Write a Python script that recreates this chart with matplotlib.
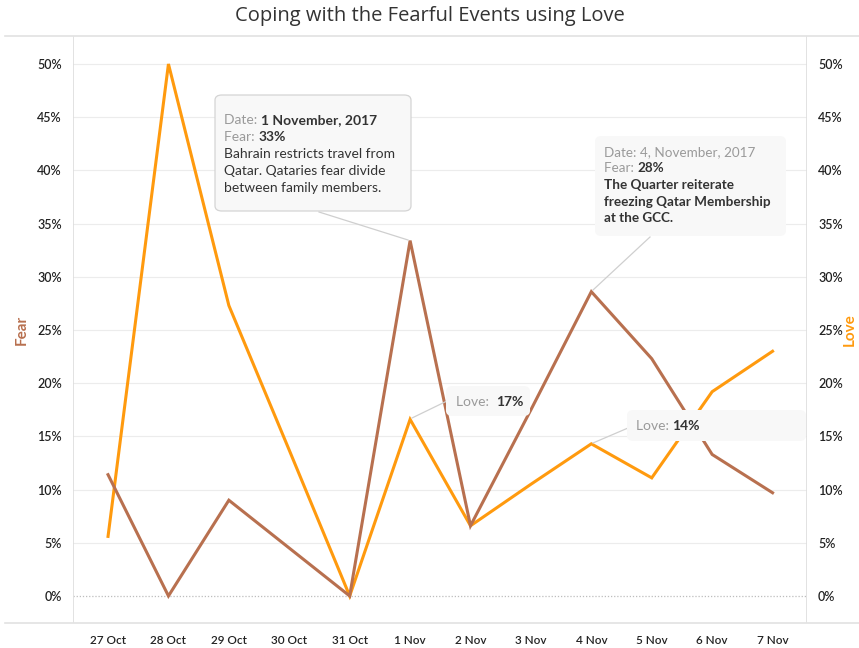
import matplotlib
matplotlib.use("Agg")
import matplotlib.pyplot as plt
from matplotlib.patches import FancyBboxPatch
from matplotlib.lines import Line2D

# ── Data ─────────────────────────────────────────
dates = ["27 Oct", "28 Oct", "29 Oct", "30 Oct", "31 Oct", "1 Nov",
         "2 Nov", "3 Nov", "4 Nov", "5 Nov", "6 Nov", "7 Nov"]
fear = [11.4, 0.0, 9.0, 4.5, 0.0, 33.4, 6.6, 17.5, 28.6, 22.3, 13.3, 9.7]
love = [5.6, 50.0, 27.3, 13.7, 0.0, 16.6, 6.6, 10.5, 14.3, 11.1, 19.2, 23.0]
y_ticks = [0, 5, 10, 15, 20, 25, 30, 35, 40, 45, 50]

FEAR_C = "#b8704f"
LOVE_C = "#ff9a0e"
GRID_C = "#ececec"
TXT = "#333333"
MUTED = "#9a9a9a"
FONT = "Lato"

plt.rcParams["font.family"] = [FONT, "DejaVu Sans"]

fig = plt.figure(figsize=(8.59, 6.48), dpi=100)
W, H = 859, 648
ax = fig.add_axes([73 / W, 1 - 623 / H, (807 - 73) / W, (623 - 36) / H])
ax2 = ax.twinx()

x = list(range(len(dates)))
ax.plot(x, fear, color=FEAR_C, lw=2.2, zorder=3, solid_joinstyle="miter")
ax.plot(x, love, color=LOVE_C, lw=2.2, zorder=2, solid_joinstyle="miter")

ylim = (-2.54, 52.63)
for a in (ax, ax2):
    a.set_ylim(*ylim)
    a.set_yticks(y_ticks)
    a.set_yticklabels([f"{v}%" for v in y_ticks], fontsize=9, color="#222222",
                      fontweight="semibold")
    a.tick_params(axis="y", length=0, pad=8)
    for s in a.spines.values():
        s.set_visible(False)
ax.set_xlim(-0.58, 11.57)
ax.set_xticks(x)
ax.set_xticklabels(dates, fontsize=8.5, color="#222222", fontweight="semibold")
ax.tick_params(axis="x", length=0, pad=9)

for v in y_ticks[1:]:
    ax.axhline(v, color=GRID_C, lw=0.8, zorder=0)
ax.axhline(0, color="#bdbdbd", lw=0.9, ls=(0, (1, 1.5)), zorder=0)

# panel borders
ax.axvline(-0.58, color="#dddddd", lw=1.2, zorder=0)
ax.axvline(11.57, color="#dddddd", lw=1.2, zorder=0)
fig.add_artist(Line2D([5 / W, 1], [1 - 36 / H] * 2, color="#e2e2e2", lw=1.2))
fig.add_artist(Line2D([5 / W, 1], [1 - 623 / H] * 2, color="#e2e2e2", lw=1.2))

fig.text(0.5, 1 - 16 / H, "Coping with the Fearful Events using Love", ha="center",
         va="center", fontsize=14.5, color="#333333", family=["Open Sans", "DejaVu Sans"])
fig.text(22 / W, 1 - 330 / H, "Fear", rotation=90, ha="center", va="center",
         fontsize=11, fontweight="bold", color=FEAR_C)
fig.text(850 / W, 1 - 330 / H, "Love", rotation=90, ha="center", va="center",
         fontsize=11, fontweight="bold", color=LOVE_C)


def px(xp, yp):
    return xp / W, 1 - yp / H


def box(x0, y0, x1, y1, edge=True):
    bx, by = px(x0, y1)
    p = FancyBboxPatch((bx, by), (x1 - x0) / W, (y1 - y0) / H,
                       boxstyle="round,pad=0,rounding_size=0.008",
                       transform=fig.transFigure, facecolor="#f8f8f8",
                       edgecolor="#d4d4d4" if edge else "none", lw=0.9, zorder=5)
    fig.add_artist(p)


def leader(xa, ya, xp, yp):
    fig.add_artist(Line2D([xa / W, xp / W], [1 - ya / H, 1 - yp / H],
                          color="#cfcfcf", lw=0.9, zorder=4))


def lines(x0, y0, parts, dy=17, fs=10):
    # parts: list of rows; each row is a list of (text, colour, weight)
    r = fig.canvas.get_renderer()
    for i, row in enumerate(parts):
        xx = x0
        for txt, col, wt in row:
            t = fig.text(*px(xx, y0 + i * dy), txt, color=col, fontweight=wt,
                         fontsize=fs, va="center", ha="left", zorder=6)
            xx += t.get_window_extent(renderer=r).width


# tooltip for 1 Nov fear
leader(319, 212, 408, 240)
box(215, 95, 411, 211)
lines(224, 120, [
    [("Date: ", MUTED, "normal"), ("1 November, 2017", TXT, "bold")],
    [("Fear: ", MUTED, "normal"), ("33%", TXT, "bold")],
    [("Bahrain restricts travel from", TXT, "normal")],
    [("Qatar. Qataries fear divide", TXT, "normal")],
    [("between family members.", TXT, "normal")],
])

# tooltip for 4 Nov fear
leader(593, 290, 650, 237)
box(595, 136, 786, 236, edge=False)
lines(604, 152, [
    [("Date: 4, November, 2017", MUTED, "normal")],
    [("Fear: ", MUTED, "normal"), ("28%", TXT, "bold")],
    [("The Quarter reiterate", TXT, "bold")],
    [("freezing Qatar Membership", TXT, "bold")],
    [("at the GCC.", TXT, "bold")],
], dy=16.5, fs=9.7)

# love labels
leader(412, 418, 447, 401)
box(446, 386, 530, 416, edge=False)
lines(456, 402, [[("Love:  ", MUTED, "normal"), ("17%", TXT, "bold")]])

leader(593, 443, 628, 428)
box(627, 410, 806, 441, edge=False)
lines(636, 426, [[("Love: ", MUTED, "normal"), ("14%", TXT, "bold")]])

fig.savefig("out.png", dpi=100, facecolor="white")
